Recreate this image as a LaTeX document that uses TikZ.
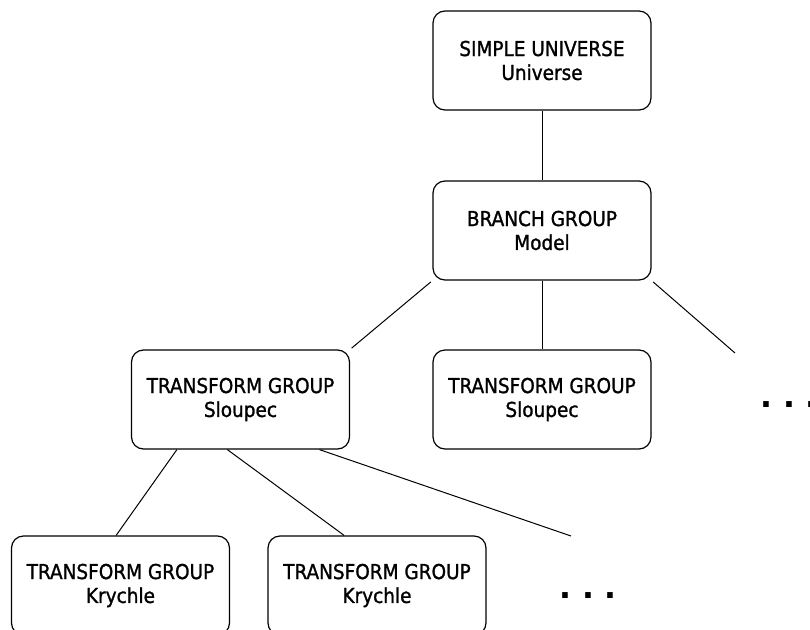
\documentclass[tikz,border=0pt]{standalone}
\usepackage{fontspec}
\setmainfont{DejaVu Sans Condensed}
\newfontfamily\boxfont{DejaVu Sans Condensed}[FakeBold=1.2]
\newfontfamily\dotsfont{DejaVu Sans}
\usepackage{tikz}
\usetikzlibrary{calc}
\tikzset{box/.style={draw, rounded corners=12bp, line width=1.2bp, minimum width=218bp, minimum height=99bp, inner sep=0pt, align=center, font=\boxfont\fontsize{20.6}{24}\selectfont},
  corner/.style={shorten <=2bp, shorten >=2bp},
  more/.style={font=\dotsfont\bfseries\fontsize{31.5}{31.5}\selectfont, inner sep=0pt}}

\begin{document}
\begin{tikzpicture}[line width=1bp,line join=bevel]
  \useasboundingbox (0bp,0bp) rectangle (810bp,-630bp);
%%
  \node (uni) at (542bp,-60.5bp) [box] {SIMPLE UNIVERSE\\Universe};
  \node (model) at (542bp,-230.5bp) [box] {BRANCH GROUP\\Model};
  \node (slp1) at (240.5bp,-399.5bp) [box] {TRANSFORM GROUP\\Sloupec};
  \node (slp2) at (542bp,-399.5bp) [box] {TRANSFORM GROUP\\Sloupec};
  \node (kr1) at (120.5bp,-585.5bp) [box] {TRANSFORM GROUP\\Krychle};
  \node (kr2) at (377bp,-585.5bp) [box] {TRANSFORM GROUP\\Krychle};
  \node (more1) at (789bp,-405bp) [more] {.\ .\ .};
  \node (more2) at (588bp,-596bp) [more] {.\ .\ .};
  \coordinate (mend) at (735bp,-353bp);
  \coordinate (send) at (571bp,-536bp);
%%
  \draw (uni) -- (model);
  \draw (model) -- (slp2);
  \draw [corner] (model.south west) -- (slp1.north east);
  \draw [shorten <=2bp] (model.south east) -- (mend);
  \draw ($(slp1.south west)!0.21!(slp1.south east)$) -- ($(kr1.north west)!0.48!(kr1.north east)$);
  \draw ($(slp1.south west)!0.44!(slp1.south east)$) -- ($(kr2.north west)!0.35!(kr2.north east)$);
  \draw ($(slp1.south west)!0.86!(slp1.south east)$) -- (send);
%
\end{tikzpicture}
\end{document}
